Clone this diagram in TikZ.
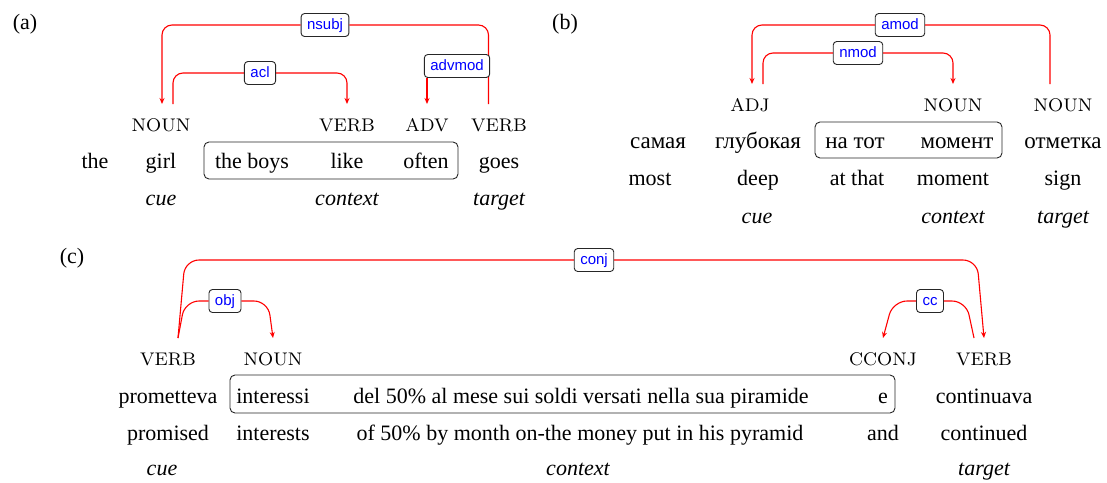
\documentclass[tikz,border=0pt]{standalone}
\usepackage{fontspec}
\setmainfont{Liberation Serif}
\newfontfamily\posfont{lmroman8-regular}[Extension=.otf]
\newfontfamily\labfont{Liberation Sans}
\usetikzlibrary{arrows.meta,calc}
\tikzset{
  word/.style={anchor=base,inner sep=0pt,font=\fontsize{22}{26}\selectfont},
  rus/.style={anchor=base,inner sep=0pt,font=\fontsize{23}{26}\selectfont},
  postag/.style={anchor=base,inner sep=0pt,font=\posfont\fontsize{18.3}{20}\selectfont},
  role/.style={anchor=base,inner sep=0pt,font=\itshape\fontsize{22}{26}\selectfont},
  panel/.style={inner sep=0pt,font=\fontsize{22}{26}\selectfont},
  deplab/.style={draw=black!85,line width=0.9pt,rounded corners=3.5pt,fill=white,text=blue,
    font=\labfont\fontsize{15}{18}\selectfont,inner xsep=6pt,inner ysep=3.5pt,
    text height=12pt,text depth=4pt},
  ctxbox/.style={draw=black!85,line width=0.9pt,rounded corners=5pt},
  dep/.style={draw=red,line width=1.1pt,rounded corners=10pt},
  depc/.style={draw=red,line width=1.1pt,rounded corners=14pt},
  tip/.style={-{Stealth[length=6pt,width=5pt]}},
}
\begin{document}
\begin{tikzpicture}[x=1pt,y=-1pt]
\useasboundingbox (0,0) rectangle (1107,482);

% ================= (a) =================
\node[panel] (pa) at (25,24) {(a)};
\draw[ctxbox] (204,142) rectangle (458,179);
\node[word] (a-the) at (95,168) {the};
\node[word] (a-girl) at (161,168) {girl};
\node[word] (a-boys) at (252,168) {the boys};
\node[word] (a-like) at (347,168) {like};
\node[word] (a-often) at (426,168) {often};
\node[word] (a-goes) at (499,168) {goes};
\node[postag] (a-p1) at (161,131) {NOUN};
\node[postag] (a-p2) at (347,131) {VERB};
\node[postag] (a-p3) at (427,131) {ADV};
\node[postag] (a-p4) at (499,131) {VERB};
\node[role] (a-cue) at (161,205) {cue};
\node[role] (a-ctx) at (347,205) {context};
\node[role] (a-tgt) at (499,205) {target};

\coordinate (a-nsubj-s) at (488.5,104);
\coordinate (a-nsubj-e) at (162,104);
\coordinate (a-acl-s) at (173,104);
\coordinate (a-acl-e) at (347,104);
\coordinate (a-adv-s) at (488.5,104);
\coordinate (a-adv-e) at (427,104);

\node[deplab] (nsubj) at (325,25) {nsubj};
\node[deplab] (acl) at (260,73) {acl};
\draw[dep] (a-nsubj-s) |- (nsubj);
\draw[dep,tip] (nsubj) -| (a-nsubj-e);
\draw[dep] (a-acl-s) |- (acl);
\draw[dep,tip] (acl) -| (a-acl-e);
\node[deplab] (advmod) at (457,66) {advmod};
\draw[dep,tip] (a-adv-e |- advmod.south) -- (a-adv-e);

% ================= (b) =================
\node[panel] (pb) at (565,24) {(b)};
\draw[ctxbox] (815,122) rectangle (1002,158);
\node[rus] (b-w1) at (658,148) {самая};
\node[rus] (b-w2) at (758,148) {глубокая};
\node[rus] (b-w3) at (855,148) {на тот};
\node[rus] (b-w4) at (957,148) {момент};
\node[rus] (b-w5) at (1063,148) {отметка};
\node[word] (b-e1) at (650,185) {most};
\node[word] (b-e2) at (758,185) {deep};
\node[word] (b-e3) at (857,185) {at that};
\node[word] (b-e4) at (953,185) {moment};
\node[word] (b-e5) at (1063,185) {sign};
\node[postag] (b-p1) at (750,111) {ADJ};
\node[postag] (b-p2) at (953,111) {NOUN};
\node[postag] (b-p3) at (1063,111) {NOUN};
\node[role] (b-cue) at (757,223) {cue};
\node[role] (b-ctx) at (953,223) {context};
\node[role] (b-tgt) at (1063,223) {target};

\coordinate (b-amod-s) at (1050,84);
\coordinate (b-amod-e) at (752,84);
\coordinate (b-nmod-s) at (763,84);
\coordinate (b-nmod-e) at (953,84);
\node[deplab] (amod) at (900,25) {amod};
\node[deplab] (nmod) at (858,53) {nmod};
\draw[dep] (b-amod-s) |- (amod);
\draw[dep,tip] (amod) -| (b-amod-e);
\draw[dep] (b-nmod-s) |- (nmod);
\draw[dep,tip] (nmod) -| (b-nmod-e);

% ================= (c) =================
\node[panel] (pc) at (72,258) {(c)};
\draw[ctxbox] (230,375) rectangle (895,413);
\node[word] (c-w1) at (168,403) {prometteva};
\node[word] (c-w2) at (273,403) {interessi};
\node[word] (c-w3) at (581,403) {del 50\% al mese sui soldi versati nella sua piramide};
\node[word] (c-w4) at (883,403) {e};
\node[word] (c-w5) at (984,403) {continuava};
\node[word] (c-e1) at (168,440) {promised};
\node[word] (c-e2) at (273,440) {interests};
\node[word] (c-e3) at (580,440) {of 50\% by month on-the money put in his pyramid};
\node[word] (c-e4) at (883,440) {and};
\node[word] (c-e5) at (984,440) {continued};
\node[postag] (c-p1) at (168,365) {VERB};
\node[postag] (c-p2) at (273,365) {NOUN};
\node[postag] (c-p3) at (883,365) {CCONJ};
\node[postag] (c-p4) at (984,365) {VERB};
\node[role] (c-cue) at (162,475) {cue};
\node[role] (c-ctx) at (578,475) {context};
\node[role] (c-tgt) at (984,475) {target};

\coordinate (c-conj-s) at (178,338);
\coordinate (c-conj-k1) at (185,260);
\coordinate (c-conj-k2) at (977,260);
\coordinate (c-conj-e) at (984,338);
\coordinate (c-obj-s) at (178,338);
\coordinate (c-obj-k1) at (185,301);
\coordinate (c-obj-k2) at (268,301);
\coordinate (c-obj-e) at (273,338);
\coordinate (c-cc-s) at (974,338);
\coordinate (c-cc-k1) at (966,301);
\coordinate (c-cc-k2) at (893,301);
\coordinate (c-cc-e) at (883,338);

\node[deplab] (conj) at (594,260) {conj};
\node[deplab] (obj) at (225,301) {obj};
\node[deplab] (cc) at (930,301) {cc};
\draw[depc] (c-conj-s) -- (c-conj-k1) -- (conj);
\draw[depc,tip] (conj) -- (c-conj-k2) -- (c-conj-e);
\draw[depc] (c-obj-s) -- (c-obj-k1) -- (obj);
\draw[depc,tip] (obj) -- (c-obj-k2) -- (c-obj-e);
\draw[depc] (c-cc-s) -- (c-cc-k1) -- (cc);
\draw[depc,tip] (cc) -- (c-cc-k2) -- (c-cc-e);
\end{tikzpicture}
\end{document}
